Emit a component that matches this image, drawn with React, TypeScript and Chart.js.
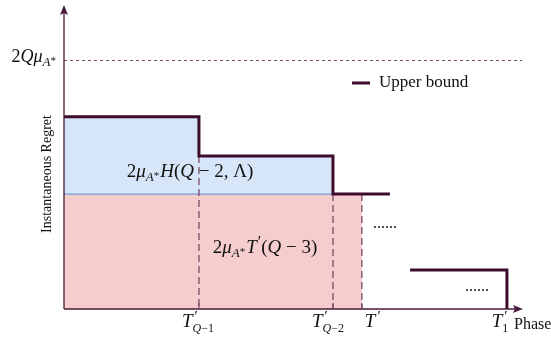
import React, { useEffect, useRef } from 'react';
import { Chart, registerables } from 'chart.js';

Chart.register(...registerables);

// ---- data (chart units) ----
const X_MAX = 100;
const Y_MAX = 100;
const boundLevel = 81.9; // 2Q mu_{A*}
const phaseTicks = [29.4, 58.6, 64.9, 96.5]; // T'_{Q-1}, T'_{Q-2}, T', T'_1
const upperX = [0, 29.4, 29.4, 58.6, 58.6, 71.0, null, 75.4, 96.5, 96.5];
const upperY = [63.2, 63.2, 50.3, 50.3, 37.8, 37.8, null, 12.8, 12.8, 0];
const blueX = [0, 29.4, 29.4, 58.6];
const blueY = [63.2, 63.2, 50.3, 50.3];
const redX = [0, 64.9];
const redY = [37.8, 37.8];
const dashTopY = [50.3, 37.8, 37.8];

const LINE = '#3d0b2c';
const AXIS = '#4a1a3a';
const DASH = '#7a4a64';
const SERIF = '"Liberation Serif", "DejaVu Serif", serif';

type Seg = { t: string; it?: boolean; s?: number; dy?: number; dx?: number; hold?: boolean; f?: string };

function font(seg: Seg, base: number) {
  return `${seg.it ? 'italic ' : ''}${seg.s ?? base}px ${seg.f ?? SERIF}`;
}
function mathWidth(ctx: CanvasRenderingContext2D, segs: Seg[], base: number) {
  let w = 0;
  for (const sg of segs) {
    ctx.font = font(sg, base);
    if (sg.hold) continue;
    w += ctx.measureText(sg.t).width + (sg.dx ?? 0);
  }
  return w;
}
function drawMath(ctx: CanvasRenderingContext2D, segs: Seg[], x: number, y: number, align: 'left' | 'center' | 'right', base = 16, color = '#111') {
  const w = mathWidth(ctx, segs, base);
  let cx = align === 'left' ? x : align === 'center' ? x - w / 2 : x - w;
  ctx.fillStyle = color;
  ctx.textAlign = 'left';
  ctx.textBaseline = 'alphabetic';
  for (const sg of segs) {
    ctx.font = font(sg, base);
    ctx.fillText(sg.t, cx + (sg.dx ?? 0), y + (sg.dy ?? 0));
    if (!sg.hold) cx += ctx.measureText(sg.t).width + (sg.dx ?? 0);
  }
}

const muA = (k: number): Seg[] => [
  { t: 'μ', it: true },
  { t: 'A', it: true, s: Math.round(12 * k), dy: Math.round(4 * k) },
  { t: '*', s: Math.round(10 * k), dy: Math.round(2 * k) },
];
const tPrime = (sub: Seg[], k = 1): Seg[] => [
  { t: 'T', it: true },
  { t: '′', s: Math.round(15 * k), dy: Math.round(-6 * k), dx: Math.round(2 * k), hold: true },
  ...sub,
];

const decorPlugin = {
  id: 'decor',
  beforeDatasetsDraw(chart: any) {
    const { ctx } = chart;
    const xs = chart.scales.x;
    const ys = chart.scales.y;
    ctx.save();
    ctx.strokeStyle = DASH;
    ctx.lineWidth = 1;
    ctx.setLineDash([3, 3]);
    ctx.beginPath();
    ctx.moveTo(xs.getPixelForValue(0), Math.round(ys.getPixelForValue(boundLevel)) + 0.5);
    ctx.lineTo(xs.getPixelForValue(99.8), Math.round(ys.getPixelForValue(boundLevel)) + 0.5);
    ctx.stroke();
    ctx.restore();
  },
  afterDraw(chart: any) {
    const { ctx } = chart;
    const xs = chart.scales.x;
    const ys = chart.scales.y;
    const x0 = xs.getPixelForValue(0);
    const y0 = ys.getPixelForValue(0);
    const xEnd = xs.getPixelForValue(X_MAX);
    const yTop = ys.getPixelForValue(Y_MAX);
    ctx.save();
    // axes
    ctx.strokeStyle = AXIS;
    ctx.fillStyle = AXIS;
    ctx.lineWidth = 1.3;
    ctx.setLineDash([]);
    ctx.beginPath();
    ctx.moveTo(x0, y0);
    ctx.lineTo(x0, yTop + 6);
    ctx.moveTo(x0, y0);
    ctx.lineTo(xEnd - 6, y0);
    ctx.stroke();
    ctx.beginPath();
    ctx.moveTo(x0, yTop);
    ctx.lineTo(x0 - 4, yTop + 10);
    ctx.lineTo(x0, yTop + 8);
    ctx.lineTo(x0 + 4, yTop + 10);
    ctx.closePath();
    ctx.fill();
    ctx.beginPath();
    ctx.moveTo(xEnd, y0);
    ctx.lineTo(xEnd - 10, y0 - 4);
    ctx.lineTo(xEnd - 8, y0);
    ctx.lineTo(xEnd - 10, y0 + 4);
    ctx.closePath();
    ctx.fill();
    // small ticks
    ctx.lineWidth = 1.2;
    ctx.strokeStyle = DASH;
    for (const t of phaseTicks.slice(0, 3)) {
      const px = xs.getPixelForValue(t);
      ctx.beginPath();
      ctx.moveTo(px, y0);
      ctx.lineTo(px, y0 - 6);
      ctx.stroke();
    }

    // y label
    ctx.save();
    ctx.translate(x0 - 17, 174);
    ctx.rotate(-Math.PI / 2);
    ctx.font = `14px ${SERIF}`;
    ctx.fillStyle = '#111';
    ctx.textAlign = 'center';
    ctx.textBaseline = 'middle';
    ctx.fillText('Instantaneous Regret', 0, 0);
    ctx.restore();

    // 2Q mu label
    drawMath(ctx, [{ t: '2' }, { t: 'Q', it: true }, ...muA(1.05)], x0 - 8, ys.getPixelForValue(boundLevel) + 2, 'right', 18);

    // legend
    ctx.strokeStyle = LINE;
    ctx.lineWidth = 3;
    ctx.beginPath();
    ctx.moveTo(352, 83);
    ctx.lineTo(370, 83);
    ctx.stroke();
    ctx.font = `17px ${SERIF}`;
    ctx.fillStyle = '#111';
    ctx.textAlign = 'left';
    ctx.textBaseline = 'middle';
    ctx.fillText('Upper bound', 379, 83);

    // region labels
    drawMath(ctx, [{ t: '2' }, ...muA(1.1), { t: 'H', it: true, dx: 1 }, { t: '(' }, { t: 'Q', it: true }, { t: ' − 2, Λ)' }], 190, 177, 'center', 19);
    drawMath(ctx, [{ t: '2' }, ...muA(1.1), { t: 'T', it: true, dx: 1 }, { t: '′', s: 16, dy: -6, dx: 1 }, { t: '(' }, { t: 'Q', it: true }, { t: ' − 3)' }], 265, 253, 'center', 19);

    // dots
    ctx.font = `16px ${SERIF}`;
    ctx.fillStyle = '#111';
    ctx.textAlign = 'left';
    ctx.textBaseline = 'alphabetic';
    ctx.fillText('......', 373, 228);
    ctx.fillText('......', 465, 291);

    // x tick labels
    const sub = (s: string): Seg[] => [{ t: s, s: 12, dy: 5 }];
    const subQ = (n: string): Seg[] => [
      { t: 'Q', it: true, s: 12, dy: 5 },
      { t: '−' + n, s: 12, dy: 5 },
    ];
    drawMath(ctx, tPrime(subQ('1')), xs.getPixelForValue(phaseTicks[0]) - 1, 327, 'center', 19);
    drawMath(ctx, tPrime(subQ('2')), xs.getPixelForValue(phaseTicks[1]) - 5, 327, 'center', 19);
    drawMath(ctx, tPrime([{ t: ' ', s: 6 }]), xs.getPixelForValue(phaseTicks[2]) + 9, 327, 'center', 19);
    drawMath(ctx, tPrime(sub('1')), xs.getPixelForValue(phaseTicks[3]) - 7, 327, 'center', 19);
    ctx.font = `16px ${SERIF}`;
    ctx.fillStyle = '#111';
    ctx.fillText('Phase', 514, 329);
    ctx.restore();
  },
};

function pts(xs: (number | null)[], ys: (number | null)[]) {
  return xs.map((x, i) => ({ x: x as number, y: ys[i] as number }));
}

export default function App() {
  const ref = useRef<HTMLCanvasElement | null>(null);
  useEffect(() => {
    const canvas = ref.current;
    if (!canvas) return;
    const dashData: any[] = [];
    phaseTicks.slice(0, 3).forEach((t, i) => {
      dashData.push({ x: t, y: dashTopY[i] }, { x: t, y: 0 }, { x: t, y: null });
    });
    const chart = new Chart(canvas, {
      type: 'line',
      data: {
        datasets: [
          {
            data: pts(blueX, blueY),
            fill: 'origin',
            backgroundColor: '#d6e6f8',
            borderWidth: 0,
            pointRadius: 0,
            order: 6,
          },
          {
            data: pts(redX, redY),
            fill: 'origin',
            backgroundColor: '#f6cdcd',
            borderWidth: 0,
            pointRadius: 0,
            order: 5,
          },
          {
            data: pts([0, 58.6], [37.8, 37.8]),
            fill: false,
            borderColor: '#6e9bd3',
            borderWidth: 1.2,
            pointRadius: 0,
            order: 4,
          },
          {
            data: dashData,
            fill: false,
            borderColor: DASH,
            borderWidth: 1.3,
            borderDash: [7, 4],
            pointRadius: 0,
            spanGaps: false,
            order: 3,
          },
          {
            label: 'Upper bound',
            data: pts(upperX, upperY),
            fill: false,
            borderColor: LINE,
            borderWidth: 3,
            borderCapStyle: 'butt',
            borderJoinStyle: 'miter',
            pointRadius: 0,
            spanGaps: false,
            order: 1,
          },
        ] as any,
      },
      options: {
        responsive: false,
        animation: false,
        devicePixelRatio: 1,
        parsing: false,
        layout: { padding: { left: 64, right: 28, top: 5, bottom: 32 } },
        scales: {
          x: { type: 'linear', min: 0, max: X_MAX, display: false },
          y: { type: 'linear', min: 0, max: Y_MAX, display: false },
        },
        plugins: {
          legend: { display: false },
          tooltip: { enabled: false },
        },
      },
      plugins: [decorPlugin],
    });
    return () => chart.destroy();
  }, []);
  return (
    <div style={{ position: 'absolute', left: 0, top: 0, width: 551, height: 341, background: '#fff' }}>
      <canvas ref={ref} width={551} height={341} />
    </div>
  );
}
